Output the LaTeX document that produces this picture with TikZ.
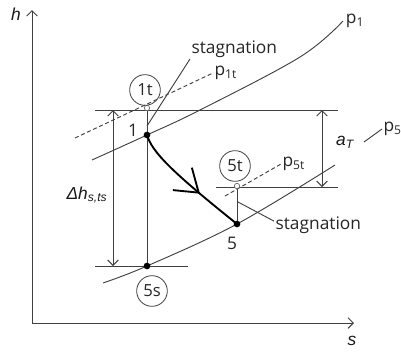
\documentclass[tikz,border=0pt]{standalone}
\usepackage{fontspec}
\setmainfont{Open Sans}
\newfontfamily\varfont{Liberation Sans}
\usetikzlibrary{
    arrows.meta,
    decorations.markings,
}
\tikzset{
    % Line styles
    thin line/.style={line width=0.7pt, draw=black!75},
    isobar/.style={thin line},
    dashed isobar/.style={thin line, dash pattern=on 3pt off 2pt},
    axis/.style={thin line, -{Straight Barb[length=4pt, width=8pt]}},
    dim arrow/.style={thin line, {Straight Barb[length=4pt, width=8pt]}-{Straight Barb[length=4pt, width=8pt]}},
    process/.style={line width=1.4pt, draw=black,
                    postaction={decorate, line width=0.8pt,
                    decoration={markings, mark=at position 0.62 with {\arrow{Straight Barb[length=16pt, width=22pt]}}}}},
    % Node styles
    state/.style={circle, draw=black!75, line width=0.6pt, minimum size=23pt, inner sep=0pt,
                  font=\fontsize{12.5}{14}\selectfont, text=black!85},
    point/.style={circle, fill=black, minimum size=5pt, inner sep=0pt},
    stag point/.style={circle, draw=black!60, fill=white, minimum size=4pt, inner sep=0pt, line width=0.5pt},
    lbl/.style={font=\fontsize{13}{15}\selectfont, text=black!85, inner sep=1pt},
    var/.style={font=\varfont\itshape\fontsize{13}{15}\selectfont, text=black!90, inner sep=1pt},
}

\begin{document}
\begin{tikzpicture}[x=0.75pt, y=-0.75pt]
    \useasboundingbox (0,0) rectangle (401,354);

    % Axes
    \coordinate (O) at (32,323);
    \coordinate (hEnd) at (32,10);
    \coordinate (sEnd) at (354,323);
    \draw[axis] (O) -- (hEnd);
    \draw[axis] (O) -- (sEnd);
    \node[var] (hlab) at (16,14) {h};
    \node[var] (slab) at (352,341) {s};

    % State points
    \coordinate (one) at (147,135);
    \coordinate (onet) at (147,108);
    \coordinate (five) at (237,224);
    \coordinate (fivet) at (237,186);
    \coordinate (fives) at (147,266);

    % Enthalpy levels
    \coordinate (topL) at (95,110);
    \coordinate (topR) at (338,110);
    \coordinate (midL) at (216,187);
    \coordinate (midR) at (338,187);
    \coordinate (botL) at (95,266);
    \coordinate (botR) at (188,266);
    \draw[thin line] (topL) -- (topR);
    \draw[thin line] (midL) -- (midR);
    \draw[thin line] (botL) -- (botR);

    % Isobars
    \node[lbl, anchor=west, inner sep=2pt] (p1lab) at (343,21) {p\textsubscript{1}};
    \draw[isobar] plot[smooth, tension=0.6] coordinates {(92,160) (one) (200,110) (300,57) (p1lab.west)};
    \draw[isobar] plot[smooth, tension=0.6] coordinates {(103,283) (fives) (five) (335,165)};
    \coordinate (p5A) at (364,142);
    \node[lbl, anchor=west] (p5lab) at (382,129) {p\textsubscript{5}};
    \draw[thin line] (p5A) -- (p5lab.west);

    \coordinate (p1tA) at (75,138);
    \node[lbl, anchor=west] (p1tlab) at (213,73) {p\textsubscript{1t}};
    \draw[dashed isobar] (p1tA) -- (p1tlab.west);
    \coordinate (p5tA) at (225,196);
    \node[lbl, anchor=west] (p5tlab) at (281,164) {p\textsubscript{5t}};
    \draw[dashed isobar] (p5tA) -- (p5tlab.west);

    % Isentropic drop and expansion
    \draw[thin line] (onet) -- (fives);
    \draw[thin line] (five) -- (fivet);
    \draw[process] (one) .. controls (152,152) and (172,172) .. (five);

    % Stagnation leaders
    \coordinate (stag1) at (147,126);
    \node[lbl, anchor=south west] (stagA) at (190,59) {stagnation};
    \draw[thin line] (stag1) -- (stagA.south west);
    \coordinate (stag5) at (238,202);
    \node[lbl, anchor=west] (stagB) at (274,225) {stagnation};
    \draw[thin line] (stag5) -- (stagB.175);

    % Dimensions
    \coordinate (dhTop) at (113,110);
    \coordinate (dhBot) at (113,266);
    \draw[dim arrow] (dhTop) -- (dhBot);
    \node[var] (dhlab) at (87,195) {Δh\textsubscript{s,ts}};
    \coordinate (aTop) at (322,110);
    \coordinate (aBot) at (322,187);
    \draw[dim arrow] (aTop) -- (aBot);
    \node[var] (alab) at (345,142) {a\textsubscript{T}};

    % Markers
    \node[point] at (one) {};
    \node[point] at (five) {};
    \node[point] at (fives) {};
    \node[stag point] at (onet) {};
    \node[stag point] at (fivet) {};
    \node[lbl] (l1) at (133,130) {1};
    \node[lbl] (l5) at (232,243) {5};
    \node[state] (s1t) at (145,90) {1t};
    \node[state] (s5t) at (235,166) {5t};
    \node[state] (s5s) at (152,291) {5s};
\end{tikzpicture}
\end{document}
